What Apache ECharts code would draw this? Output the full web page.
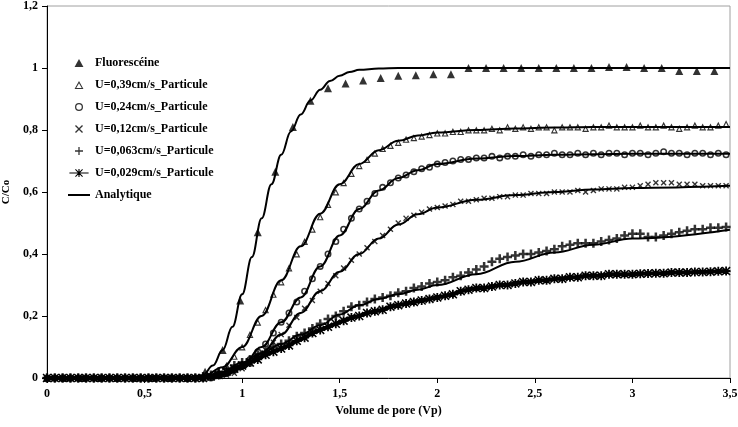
<!DOCTYPE html>
<html><head><meta charset="utf-8">
<script src="https://cdn.jsdelivr.net/npm/echarts@6/dist/echarts.min.js"></script>
<style>html,body{margin:0;padding:0;background:#fff}#c{width:738px;height:427px}</style>
</head><body><div id="c"></div>
<script>
// ---- data ----
const seriesNames = ['Fluorescéine','U=0,39cm/s_Particule','U=0,24cm/s_Particule','U=0,12cm/s_Particule','U=0,063cm/s_Particule','U=0,029cm/s_Particule','Analytique'];
const xTickLabels = ['0','0,5','1','1,5','2','2,5','3','3,5'];
const yTickLabels = ['0','0,2','0,4','0,6','0,8','1','1,2'];

const fluoX = [0,0.09,0.18,0.27,0.36,0.45,0.54,0.63,0.72,0.81,0.90,0.99,1.08,1.17,1.26,1.35,1.44,1.53,1.62,1.71,1.80,1.89,1.98,2.07,2.16,2.25,2.34,2.43,2.52,2.61,2.70,2.79,2.88,2.97,3.06,3.15,3.24,3.33,3.42];
const fluoY = [0,0,0,0,0,0,0,0,0,0.02,0.09,0.25,0.47,0.665,0.81,0.894,0.935,0.95,0.96,0.968,0.975,0.977,0.98,0.98,1.0,1.0,1.0,1.0,1.0,1.0,1.0,1.0,1.003,1.003,1.0,1.0,0.99,0.99,0.99];

const volumes = [0.00,0.04,0.08,0.12,0.16,0.20,0.24,0.28,0.32,0.36,0.40,0.44,0.48,0.52,0.56,0.60,0.64,0.68,0.72,0.76,
 0.80,0.84,0.88,0.92,0.96,1.00,1.04,1.08,1.12,1.16,1.20,1.24,1.28,1.32,1.36,1.40,1.44,1.48,1.52,1.56,1.60,1.64,1.68,1.72,1.76,1.80,1.84,1.88,1.92,1.96,
 2.00,2.04,2.08,2.12,2.16,2.20,2.24,2.28,2.32,2.36,2.40,2.44,2.48,2.52,2.56,2.60,2.64,2.68,2.72,2.76,2.80,2.84,2.88,2.92,2.96,
 3.00,3.04,3.08,3.12,3.16,3.20,3.24,3.28,3.32,3.36,3.40,3.44,3.48];

const u039 = [0,0,0,0,0,0,0,0,0,0,0,0,0,0,0,0,0,0,0,0,
 0.00,0.01,0.02,0.04,0.07,0.10,0.14,0.18,0.22,0.27,0.31,0.355,0.40,0.44,0.48,0.52,0.56,0.60,0.63,0.66,0.685,0.705,0.725,0.74,0.75,0.76,0.77,0.775,0.78,0.785,
 0.79,0.79,0.795,0.795,0.80,0.80,0.80,0.805,0.80,0.81,0.805,0.81,0.805,0.81,0.81,0.80,0.81,0.81,0.81,0.805,0.81,0.81,0.815,0.81,0.81,
 0.81,0.815,0.81,0.81,0.815,0.81,0.805,0.81,0.815,0.81,0.81,0.815,0.82];

const u024 = [0,0,0,0,0,0,0,0,0,0,0,0,0,0,0,0,0,0,0,0,
 0.00,0.00,0.01,0.015,0.025,0.04,0.06,0.085,0.11,0.145,0.18,0.21,0.245,0.28,0.32,0.36,0.40,0.44,0.48,0.515,0.545,0.57,0.595,0.615,0.63,0.645,0.655,0.665,0.675,0.68,
 0.69,0.695,0.70,0.705,0.705,0.71,0.71,0.715,0.71,0.715,0.715,0.72,0.715,0.72,0.72,0.725,0.72,0.72,0.725,0.72,0.725,0.72,0.725,0.725,0.72,
 0.725,0.725,0.72,0.725,0.73,0.725,0.725,0.72,0.725,0.725,0.72,0.725,0.72];

const u012 = [0,0,0,0,0,0,0,0,0,0,0,0,0,0,0,0,0,0,0,0,
 0.00,0.00,0.005,0.01,0.015,0.03,0.045,0.07,0.09,0.115,0.14,0.17,0.195,0.225,0.25,0.28,0.305,0.33,0.355,0.38,0.40,0.42,0.44,0.46,0.48,0.50,0.515,0.525,0.535,0.545,
 0.55,0.555,0.56,0.57,0.57,0.575,0.58,0.58,0.585,0.585,0.59,0.59,0.595,0.595,0.595,0.60,0.60,0.60,0.605,0.60,0.605,0.61,0.61,0.61,0.615,
 0.615,0.62,0.625,0.63,0.63,0.63,0.625,0.625,0.625,0.62,0.62,0.62,0.62];

const u0063 = [0,0,0,0,0,0,0,0,0,0,0,0,0,0,0,0,0,0,0,0,
 0.005,0.01,0.02,0.03,0.04,0.05,0.06,0.075,0.085,0.10,0.11,0.12,0.135,0.145,0.16,0.175,0.19,0.20,0.215,0.23,0.235,0.245,0.255,0.26,0.265,0.275,0.28,0.29,0.295,0.305,
 0.31,0.315,0.325,0.33,0.34,0.35,0.36,0.375,0.385,0.39,0.395,0.40,0.40,0.405,0.41,0.415,0.425,0.43,0.435,0.435,0.435,0.44,0.445,0.45,0.46,
 0.465,0.465,0.455,0.455,0.46,0.465,0.47,0.475,0.48,0.48,0.485,0.485,0.487];

const u0029 = [0,0,0,0,0,0,0,0,0,0,0,0,0,0,0,0,0,0,0,0,
 0.00,0.005,0.01,0.02,0.03,0.04,0.05,0.06,0.075,0.085,0.095,0.105,0.12,0.13,0.145,0.155,0.165,0.175,0.185,0.195,0.20,0.21,0.215,0.22,0.23,0.235,0.24,0.245,0.25,0.255,
 0.26,0.265,0.27,0.28,0.285,0.29,0.29,0.295,0.30,0.30,0.305,0.31,0.31,0.315,0.315,0.32,0.32,0.325,0.325,0.33,0.33,0.33,0.335,0.335,0.335,
 0.335,0.336,0.337,0.338,0.338,0.34,0.34,0.34,0.342,0.342,0.343,0.344,0.345];

// analytical curves
const anaFluoX = [0,0.75,0.80,0.85,0.90,0.95,1.00,1.05,1.10,1.15,1.20,1.25,1.30,1.35,1.40,1.45,1.50,1.55,1.60,1.70,1.80,3.50];
const anaFluoY = [0,0,0.01,0.04,0.09,0.165,0.27,0.39,0.515,0.625,0.72,0.795,0.85,0.895,0.93,0.958,0.975,0.987,0.994,0.998,1.0,1.0];
const anaX = [0,0.8,0.9,1.0,1.1,1.2,1.3,1.4,1.5,1.6,1.7,1.8,1.9,2.0,2.2,2.4,2.6,2.8,3.0,3.5];
const ana039 = [0,0.005,0.035,0.10,0.20,0.315,0.425,0.53,0.625,0.69,0.735,0.765,0.782,0.792,0.80,0.805,0.808,0.81,0.81,0.81];
const ana024 = [0,0,0.01,0.04,0.10,0.18,0.26,0.36,0.46,0.545,0.605,0.645,0.67,0.69,0.708,0.716,0.72,0.722,0.723,0.723];
const ana012 = [0,0,0.005,0.03,0.08,0.14,0.21,0.28,0.343,0.40,0.45,0.495,0.528,0.55,0.575,0.59,0.60,0.608,0.613,0.62];
const ana0063 = [0,0.005,0.02,0.05,0.08,0.11,0.14,0.17,0.205,0.235,0.255,0.27,0.285,0.30,0.335,0.375,0.405,0.43,0.45,0.478];
const ana0029 = [0,0,0.012,0.04,0.07,0.095,0.125,0.155,0.18,0.20,0.218,0.235,0.248,0.26,0.29,0.305,0.318,0.328,0.335,0.345];

// ---- chart ----
const pair = (xs, ys) => xs.map((x, i) => [x, ys[i]]);
const FONT = '"Liberation Serif","Times New Roman",serif';
// legend icons (thin)
const ICON_TRI = 'path://M5,0L10,9L0,9Z';
const ICON_TRI_O = 'path://M5,0L10,9L0,9Z M5,2.6L1.9,7.8L8.1,7.8Z';
const ICON_CIR_O = 'path://M5,0A5,5 0 1,1 5,10A5,5 0 1,1 5,0Z M5,1.6A3.4,3.4 0 1,0 5,8.4A3.4,3.4 0 1,0 5,1.6Z';
const ICON_X = 'path://M0,1.2L1.2,0L5,3.8L8.8,0L10,1.2L6.2,5L10,8.8L8.8,10L5,6.2L1.2,10L0,8.8L3.8,5Z';
const ICON_PLUS = 'path://M4.2,0H5.8V4.2H10V5.8H5.8V10H4.2V5.8H0V4.2H4.2Z';
const ICON_LINE = 'path://M0,0H24V2.2H0Z';
const ICON_LINE_STAR = 'path://M0,4.3H24V5.7H0Z M11.3,0H12.7V10H11.3Z M8,0.1L12,4.1L16,0.1L16.9,1L12.9,5L16.9,9L16,9.9L12,5.9L8,9.9L7.1,9L11.1,5L7.1,1Z';
// plot markers (bolder, like the dense printed marks)
const SYM_TRI = 'path://M5,0L10,9L0,9Z';
const SYM_TRI_O = 'path://M5,0L10,9L0,9Z M5,3.3L2.6,7.5L7.4,7.5Z';
const SYM_CIR_O = 'path://M5,0A5,5 0 1,1 5,10A5,5 0 1,1 5,0Z M5,2.2A2.8,2.8 0 1,0 5,7.8A2.8,2.8 0 1,0 5,2.2Z';
const SYM_X = 'path://M0,1.6L1.6,0L5,3.4L8.4,0L10,1.6L6.6,5L10,8.4L8.4,10L5,6.6L1.6,10L0,8.4L3.4,5Z';
const SYM_PLUS = 'path://M3.6,0H6.4V3.6H10V6.4H6.4V10H3.6V6.4H0V3.6H3.6Z';
const SYM_STAR = 'path://M4,0H6V4H10V6H6V10H4V6H0V4H4Z M1.2,0L5,3.8L8.8,0L10,1.2L6.2,5L10,8.8L8.8,10L5,6.2L1.2,10L0,8.8L3.8,5L0,1.2Z';

const scatter = (name, data, symbol, size) => ({
  type: 'scatter', name, data, symbol, symbolSize: size,
  itemStyle: { color: '#000' }, silent: true
});
const anaLine = (data) => ({
  type: 'line', name: 'Analytique', data, showSymbol: false, symbol: 'none',
  smooth: 0.4, smoothMonotone: 'x',
  lineStyle: { color: '#000', width: 2 }, itemStyle: { color: '#000' }, z: 5, silent: true
});

const chart = echarts.init(document.getElementById('c'));
chart.setOption({
  animation: false,
  backgroundColor: '#fff',
  grid: { left: 47, right: 8, top: 6, bottom: 49, outerBoundsMode: 'none', containLabel: false,
    show: true, borderColor: '#a0a0a0', borderWidth: 1, backgroundColor: 'transparent' },
  xAxis: {
    type: 'value', min: 0, max: 3.5, interval: 0.5,
    name: 'Volume de pore (Vp)', nameLocation: 'middle', nameGap: 24,
    nameTextStyle: { fontFamily: FONT, fontWeight: 'bold', fontSize: 12, color: '#000' },
    axisLine: { lineStyle: { color: '#000', width: 1 } },
    axisTick: { show: true, length: 5, lineStyle: { color: '#000' } },
    axisLabel: { margin: 10, fontFamily: FONT, fontWeight: 'bold', fontSize: 12, color: '#000',
      formatter: v => xTickLabels[Math.round(v / 0.5)] },
    splitLine: { show: false }
  },
  yAxis: {
    type: 'value', min: 0, max: 1.2, interval: 0.2,
    name: 'C/Co', nameLocation: 'middle', nameGap: 30, nameRotate: 90,
    nameTextStyle: { fontFamily: FONT, fontWeight: 'bold', fontSize: 11, color: '#000' },
    axisLine: { show: true, lineStyle: { color: '#000', width: 1 } },
    axisTick: { show: true, length: 5, lineStyle: { color: '#000' } },
    axisLabel: { margin: 9, fontFamily: FONT, fontWeight: 'bold', fontSize: 12, color: '#000',
      formatter: v => yTickLabels[Math.round(v / 0.2)] },
    splitLine: { show: false }
  },
  legend: {
    orient: 'vertical', left: 63, top: 51, itemWidth: 22, itemHeight: 8, itemGap: 8,
    symbolKeepAspect: true,
    data: [
      { name: seriesNames[0], icon: ICON_TRI },
      { name: seriesNames[1], icon: ICON_TRI_O },
      { name: seriesNames[2], icon: ICON_CIR_O },
      { name: seriesNames[3], icon: ICON_X },
      { name: seriesNames[4], icon: ICON_PLUS },
      { name: seriesNames[5], icon: ICON_LINE_STAR },
      { name: seriesNames[6], icon: ICON_LINE }
    ],
    textStyle: { fontFamily: FONT, fontWeight: 'bold', fontSize: 12, color: '#000', lineHeight: 14 },
    selectedMode: false
  },
  series: [
    scatter(seriesNames[0], pair(fluoX, fluoY), SYM_TRI, 8),
    scatter(seriesNames[1], pair(volumes, u039), SYM_TRI_O, 7),
    scatter(seriesNames[2], pair(volumes, u024), SYM_CIR_O, 7),
    scatter(seriesNames[3], pair(volumes, u012), SYM_X, 6),
    scatter(seriesNames[4], pair(volumes, u0063), SYM_PLUS, 9),
    { type: 'line', name: seriesNames[5], data: pair(volumes, u0029), symbol: SYM_STAR, symbolSize: 9, showSymbol: true,
      lineStyle: { color: '#000', width: 4 }, itemStyle: { color: '#000' }, silent: true },
    anaLine(pair(anaFluoX, anaFluoY)),
    anaLine(pair(anaX, ana039)),
    anaLine(pair(anaX, ana024)),
    anaLine(pair(anaX, ana012)),
    anaLine(pair(anaX, ana0063)),
    anaLine(pair(anaX, ana0029))
  ]
});
</script>
</body></html>
